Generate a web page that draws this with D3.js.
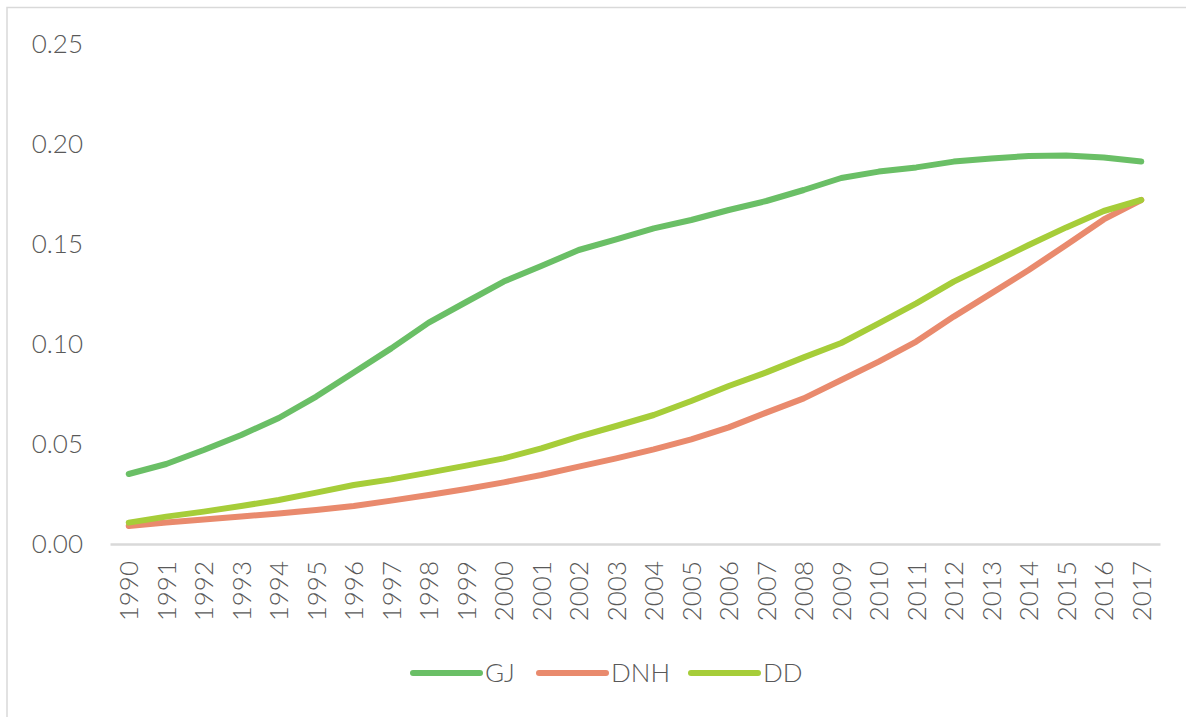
<!DOCTYPE html>
<html>
<head>
<meta charset="utf-8">
<script src="https://cdn.jsdelivr.net/npm/d3@7"></script>
<style>
  html, body { margin: 0; padding: 0; background: #fff; }
  svg { display: block; }
  text { font-family: Lato, "Open Sans", sans-serif; font-weight: 300; fill: #595959; }
</style>
</head>
<body>
<svg id="chart" width="1186" height="717"></svg>
<script>
// Years on the category axis
const years = [1990, 1991, 1992, 1993, 1994, 1995, 1996, 1997, 1998, 1999,
               2000, 2001, 2002, 2003, 2004, 2005, 2006, 2007, 2008, 2009,
               2010, 2011, 2012, 2013, 2014, 2015, 2016, 2017];

// Series values per year
const gj  = [0.035, 0.040, 0.047, 0.0545, 0.063, 0.0737, 0.0858, 0.0978, 0.1107, 0.121,
             0.1312, 0.139, 0.147, 0.1523, 0.1578, 0.162, 0.167, 0.1715, 0.177, 0.183,
             0.1862, 0.1883, 0.1912, 0.1928, 0.194, 0.1942, 0.1933, 0.1912];
const dnh = [0.009, 0.0107, 0.0123, 0.0137, 0.0153, 0.017, 0.019, 0.0217, 0.0245, 0.0275,
             0.0308, 0.0345, 0.0387, 0.0428, 0.0473, 0.0523, 0.0583, 0.0657, 0.0728, 0.082,
             0.0912, 0.1012, 0.1137, 0.1253, 0.137, 0.1495, 0.1623, 0.172];
const dd  = [0.0107, 0.0137, 0.0162, 0.019, 0.022, 0.0257, 0.0295, 0.0323, 0.0357, 0.0392,
             0.0428, 0.0478, 0.0537, 0.059, 0.0645, 0.0715, 0.079, 0.0858, 0.0933, 0.1005,
             0.1103, 0.1203, 0.1312, 0.1403, 0.1495, 0.1583, 0.1665, 0.172];

const seriesNames = ["GJ", "DNH", "DD"];
const yTicks = [0, 0.05, 0.10, 0.15, 0.20, 0.25];

const series = [
  { name: seriesNames[0], values: gj,  color: "#6abf66" },
  { name: seriesNames[1], values: dnh, color: "#e98a6d" },
  { name: seriesNames[2], values: dd,  color: "#a6cd39" }
];

const svg = d3.select("#chart");
const FONT = "Lato, 'Open Sans', sans-serif";

// Outer chart frame
svg.append("rect")
  .attr("x", 7).attr("y", 7.5)
  .attr("width", 1200).attr("height", 730)
  .attr("fill", "none")
  .attr("stroke", "#d9d9d9")
  .attr("stroke-width", 1.5);

const x = d3.scaleBand().domain(years).range([110, 1160]);
const xc = yr => x(yr) + x.bandwidth() / 2;
const y = d3.scaleLinear().domain([0, 0.25]).range([544, 44]);

// Value axis labels (no axis line)
const yAxis = d3.axisLeft(y).tickValues(yTicks).tickFormat(d3.format(".2f")).tickSize(0).tickPadding(0);
const gy = svg.append("g").attr("transform", "translate(83,0)").call(yAxis);
gy.select(".domain").remove();
gy.selectAll("text")
  .style("font-size", "26px")
  .style("font-family", FONT)
  .style("font-weight", 300)
  .attr("fill", "#595959")
  .attr("text-anchor", "end");

// Category axis line and rotated year labels
const xAxis = d3.axisBottom(x).tickSize(0).tickPadding(0);
const gx = svg.append("g").attr("transform", "translate(0,544)").call(xAxis);
gx.select(".domain").attr("stroke", "#d9d9d9").attr("stroke-width", 2.5);
gx.selectAll(".tick text")
  .style("font-size", "26px")
  .style("font-family", FONT)
  .style("font-weight", 300)
  .attr("fill", "#595959")
  .attr("text-anchor", "end")
  .attr("y", 0)
  .attr("dy", "0.36em")
  .attr("transform", "translate(0,17) rotate(-90)");

// Lines
const line = d3.line()
  .x((d, i) => xc(years[i]))
  .y(d => y(d));

series.forEach(s => {
  svg.append("path")
    .datum(s.values)
    .attr("d", line)
    .attr("fill", "none")
    .attr("stroke", s.color)
    .attr("stroke-width", 6)
    .attr("stroke-linecap", "round")
    .attr("stroke-linejoin", "round");
});

// Legend
const legendItems = [
  { x0: 413, tx: 485 },
  { x0: 539, tx: 611 },
  { x0: 691, tx: 763 }
];
const ly = 673;
series.forEach((s, i) => {
  const it = legendItems[i];
  svg.append("line")
    .attr("x1", it.x0).attr("x2", it.x0 + 67)
    .attr("y1", ly).attr("y2", ly)
    .attr("stroke", s.color)
    .attr("stroke-width", 6)
    .attr("stroke-linecap", "round");
  svg.append("text")
    .attr("x", it.tx).attr("y", ly)
    .attr("dy", "0.36em")
    .style("font-size", "26px")
    .text(s.name);
});
</script>
</body>
</html>
